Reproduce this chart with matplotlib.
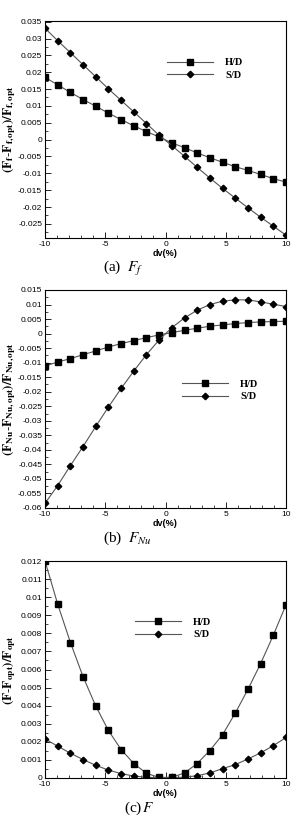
import matplotlib
matplotlib.use('Agg')
import matplotlib.pyplot as plt
from matplotlib.ticker import MultipleLocator, AutoMinorLocator, FuncFormatter

plt.rcParams['mathtext.fontset'] = 'stix'

# x-Werte (dv in %)
dv = [-10, -8.95, -7.89, -6.84, -5.79, -4.74, -3.68, -2.63, -1.58, -0.53,
      0.53, 1.58, 2.63, 3.68, 4.74, 5.79, 6.84, 7.89, 8.95, 10]

# (a) F_f
ff_hd = [0.01845, 0.01627, 0.01399, 0.0119, 0.00992, 0.00784, 0.00595, 0.00407, 0.00238, 0.00079,
         -0.00099, -0.00238, -0.00397, -0.00536, -0.00675, -0.00804, -0.00913, -0.01032, -0.0116, -0.0126]
ff_sd = [0.03304, 0.02937, 0.02579, 0.02222, 0.01865, 0.01508, 0.01161, 0.00823, 0.00476, 0.00129,
         -0.00179, -0.00496, -0.00823, -0.01141, -0.01448, -0.01736, -0.02024, -0.02302, -0.02569, -0.02837]

# (b) F_Nu
fnu_hd = [-0.01115, -0.00977, -0.00862, -0.00724, -0.00598, -0.0046, -0.00345, -0.00241, -0.00138, -0.00046,
          0.00034, 0.00115, 0.00184, 0.00253, 0.00299, 0.00345, 0.00379, 0.00402, 0.00414, 0.00425]
fnu_sd = [-0.0584, -0.0523, -0.0454, -0.03885, -0.03195, -0.02529, -0.01885, -0.01287, -0.00724, -0.00218,
          0.00207, 0.0054, 0.00805, 0.0100, 0.01115, 0.01161, 0.01161, 0.01092, 0.01011, 0.00931]

# (c) F
f_hd = [0.0120, 0.00962, 0.00749, 0.0056, 0.00398, 0.00263, 0.00157, 0.0008, 0.00026, 0.00003,
        0.00004, 0.00028, 0.0008, 0.00152, 0.0024, 0.00359, 0.0049, 0.00632, 0.0079, 0.00958]
f_sd = [0.00216, 0.00176, 0.00137, 0.00102, 0.0007, 0.00044, 0.00024, 0.00011, 0.00004, 0.00001,
        0.00003, 0.00004, 0.00013, 0.00028, 0.00052, 0.00074, 0.00105, 0.00139, 0.00179, 0.00224]

labels = ['H/D', 'S/D']

panels = [
    dict(hd=ff_hd, sd=ff_sd, ylim=(-0.0292, 0.0352), major=0.005,
         ylabel=r'$\mathbf{(F_{f}\text{-}F_{f,opt})/F_{f,opt}}$',
         caption=r'(a)  $F_f$', cap_x=103, leg=(0.506, 0.779),
         rect=(45, 21, 241, 217)),
    dict(hd=fnu_hd, sd=fnu_sd, ylim=(-0.06, 0.015), major=0.005,
         ylabel=r'$\mathbf{(F_{Nu}\text{-}F_{Nu,opt})/F_{Nu,opt}}$',
         caption=r'(b)  $F_{Nu}$', cap_x=103, leg=(0.568, 0.539),
         rect=(45, 290, 241, 218)),
    dict(hd=f_hd, sd=f_sd, ylim=(0, 0.012), major=0.001,
         ylabel=r'$\mathbf{(F\text{-}F_{opt})/F_{opt}}$',
         caption=r'(c)$\,F$', cap_x=124, leg=(0.373, 0.689),
         rect=(45, 561, 241, 217)),
]

W, H = 296, 827
fig = plt.figure(figsize=(W / 100, H / 100), dpi=100)
fmt = FuncFormatter(lambda v, p: '%g' % (round(v, 6) + 0.0))

for pn in panels:
    x0, y0, w, h = pn['rect']
    ax = fig.add_axes([x0 / W, 1 - (y0 + h) / H, w / W, h / H])
    ax.plot(dv, pn['hd'], '-', color='#555555', lw=0.8, marker='s', ms=3.8,
            mfc='black', mec='black', label=labels[0])
    ax.plot(dv, pn['sd'], '-', color='#555555', lw=0.8, marker='D', ms=3.3,
            mfc='black', mec='black', label=labels[1])
    ax.set_xlim(-10, 10)
    ax.set_ylim(*pn['ylim'])
    ax.xaxis.set_major_locator(MultipleLocator(5))
    ax.xaxis.set_minor_locator(MultipleLocator(1))
    ax.yaxis.set_major_locator(MultipleLocator(pn['major']))
    ax.yaxis.set_minor_locator(AutoMinorLocator(2))
    ax.xaxis.set_major_formatter(fmt)
    ax.yaxis.set_major_formatter(fmt)
    ax.tick_params(which='both', direction='in', top=False, right=False,
                   labelsize=6, pad=2)
    ax.tick_params(which='major', length=4, width=0.6)
    ax.tick_params(which='minor', length=2, width=0.5)
    for lab in ax.get_xticklabels() + ax.get_yticklabels():
        lab.set_family('Liberation Sans')
    for s in ax.spines.values():
        s.set_linewidth(0.8)
    ax.set_xlabel('dv(%)', fontsize=6.5, fontweight='bold', family='Liberation Sans', labelpad=1)
    ax.set_ylabel(pn['ylabel'], fontsize=9.5)
    ax.yaxis.set_label_coords(-0.11, 0.5)
    ax.legend(loc='center left', bbox_to_anchor=pn['leg'], frameon=False,
              prop=dict(family='Liberation Serif', weight='bold', size=7.5),
              handlelength=4.4, handletextpad=1.2, borderpad=0, borderaxespad=0,
              labelspacing=0.3)
    fig.text(pn['cap_x'] / W, 1 - (y0 + h + 30) / H, pn['caption'],
             family='Liberation Serif', fontsize=11, ha='left', va='center')

fig.savefig('out.png', dpi=100)
